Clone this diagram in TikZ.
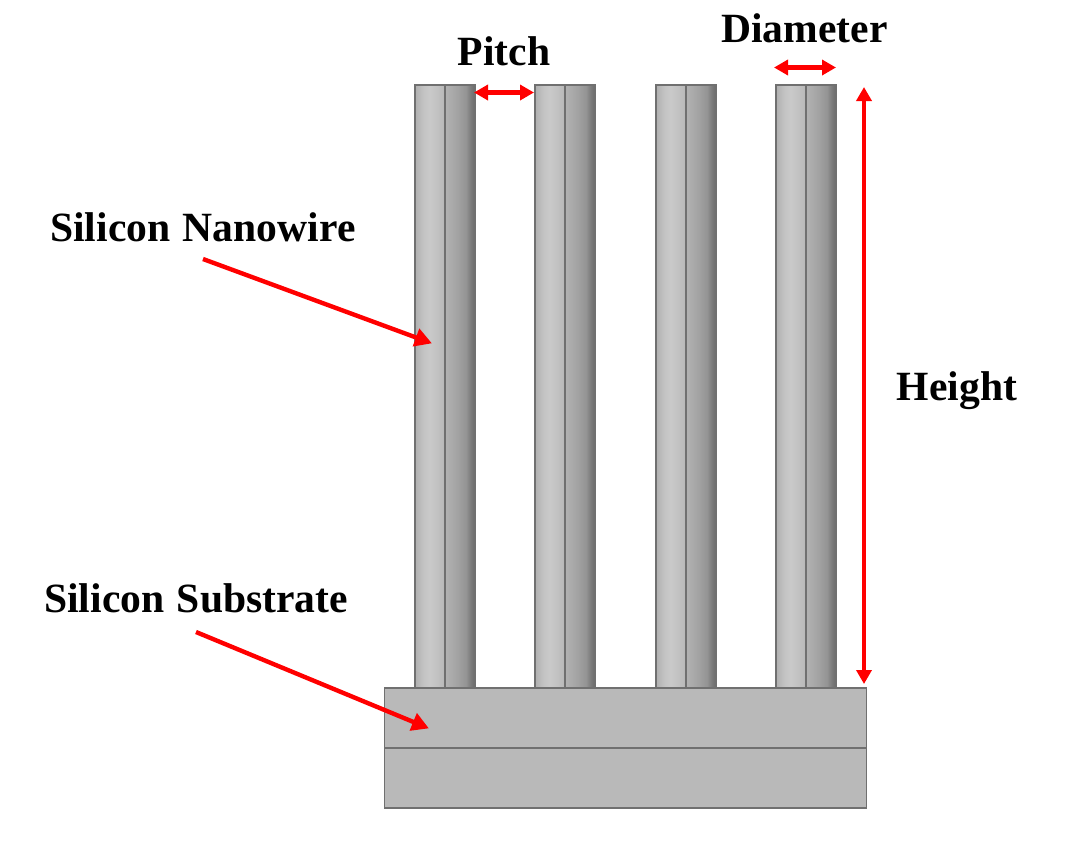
\documentclass[tikz,border=0pt]{standalone}
\usepackage{fontspec}
\setmainfont{Liberation Serif}
\usetikzlibrary{arrows.meta}
\definecolor{edgegray}{HTML}{707070}
\definecolor{subgray}{HTML}{B9B9B9}
\definecolor{arrowred}{HTML}{FF0000}
\newcommand{\lblfont}{\fontsize{41.6}{46}\selectfont\bfseries\spaceskip=12.5pt\relax}
\pgfdeclarehorizontalshading{wireleft}{100bp}{
  color(0bp)=(black!31!white);
  color(25bp)=(black!31!white);
  color(40bp)=(black!23!white);
  color(50bp)=(black!21!white);
  color(62bp)=(black!24!white);
  color(75bp)=(black!28!white);
  color(100bp)=(black!28!white)}
\pgfdeclarehorizontalshading{wireright}{100bp}{
  color(0bp)=(black!30!white);
  color(25bp)=(black!30!white);
  color(45bp)=(black!36!white);
  color(60bp)=(black!42!white);
  color(68bp)=(black!52!white);
  color(75bp)=(black!58!white);
  color(100bp)=(black!58!white)}
\tikzset{
  x=1pt,y=-1pt,
  halfwire/.style={draw=edgegray,line width=1.3pt,inner sep=0pt,outer sep=0pt,minimum width=30pt,minimum height=603pt,anchor=north west},
  wl/.style={halfwire,shading=wireleft},
  wr/.style={halfwire,shading=wireright},
  slab/.style={draw=edgegray,line width=1.3pt,fill=subgray,inner sep=0pt,outer sep=0pt,minimum width=482pt,minimum height=60pt,anchor=north west},
  redarrow/.style={draw=arrowred,line width=4.4pt,-{Triangle[length=17pt,width=18pt]},shorten >=-1pt},
  reddouble/.style={draw=arrowred,line width=4.2pt,{Triangle[length=14pt,width=15pt]}-{Triangle[length=14pt,width=15pt]}},
  lbl/.style={font=\lblfont,inner sep=0pt,anchor=base,text=black},
  lblw/.style={lbl,anchor=base west}
}
\begin{document}
\begin{tikzpicture}
\useasboundingbox (0,0) rectangle (1066,855);
% substrate
\node[slab] (subtop) at (384.5,688) {};
\node[slab] (subbot) at (384.5,748) {};
% wires
\node[wl] (w1l) at (415,85) {};
\node[wr] (w1r) at (445,85) {};
\node[wl] (w2l) at (535,85) {};
\node[wr] (w2r) at (565,85) {};
\node[wl] (w3l) at (656,85) {};
\node[wr] (w3r) at (686,85) {};
\node[wl] (w4l) at (776,85) {};
\node[wr] (w4r) at (806,85) {};
% labels
\node[lbl] (pitch) at (504,65) {Pitch};
\node[lbl] (diam) at (804.5,42) {Diameter};
\node[lbl] (height) at (957,400) {Height};
\node[lblw] (nano) at (50,241) {Silicon Nanowire};
\node[lblw] (subs) at (44,612) {Silicon Substrate};
% arrow ends
\coordinate (pa) at (474,92.5);
\coordinate (pb) at (534,92.5);
\coordinate (da) at (774,67.5);
\coordinate (db) at (836,67.5);
\coordinate (ha) at (864,87);
\coordinate (hb) at (864,684);
\coordinate (na) at (203,259);
\coordinate (nb) at (431,343);
\coordinate (sa) at (196,632);
\coordinate (sb) at (428,728);
\draw[reddouble] (pa) -- (pb);
\draw[reddouble] (da) -- (db);
\draw[reddouble] (ha) -- (hb);
\draw[redarrow] (na) -- (nb);
\draw[redarrow] (sa) -- (sb);
\end{tikzpicture}
\end{document}
